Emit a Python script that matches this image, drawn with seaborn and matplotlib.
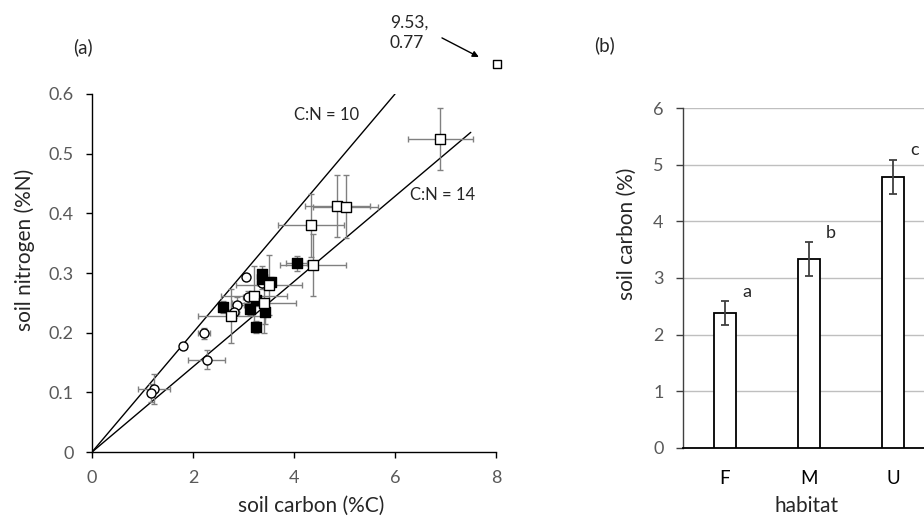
import matplotlib
matplotlib.use("Agg")
import matplotlib.pyplot as plt
import seaborn as sns
import pandas as pd

# ---- panel (a): soil C vs N, three groups of sites ----
circ_c = [1.23, 1.16, 1.81, 2.22, 2.27, 3.05, 2.88, 3.08, 2.81, 3.36]
circ_n = [0.106, 0.099, 0.178, 0.199, 0.155, 0.293, 0.247, 0.259, 0.235, 0.284]
circ_cerr = [0.31, 0.05, 0.03, 0.12, 0.36, 0.05, 0.12, 0.10, 0.10, 0.10]
circ_nerr = [0.025, 0.015, 0.004, 0.009, 0.016, 0.005, 0.012, 0.010, 0.010, 0.010]

fill_c = [4.05, 3.37, 3.36, 3.55, 2.59, 3.13, 3.25, 3.42, 3.25]
fill_n = [0.316, 0.299, 0.290, 0.285, 0.243, 0.240, 0.255, 0.235, 0.210]
fill_cerr = [0.20, 0.05, 0.05, 0.08, 0.06, 0.06, 0.06, 0.06, 0.06]
fill_nerr = [0.012, 0.012, 0.010, 0.008, 0.010, 0.010, 0.010, 0.021, 0.010]

open_c = [6.90, 4.86, 5.02, 4.33, 4.38, 3.50, 3.21, 3.40, 2.76]
open_n = [0.525, 0.413, 0.411, 0.380, 0.313, 0.280, 0.261, 0.250, 0.228]
open_cerr = [0.65, 0.65, 0.65, 0.65, 0.65, 0.65, 0.65, 0.63, 0.66]
open_nerr = [0.052, 0.052, 0.053, 0.053, 0.052, 0.050, 0.050, 0.050, 0.045]

outlier_c, outlier_n = 9.53, 0.77

# ---- panel (b): soil carbon by habitat ----
habitats = ["F", "M", "U"]
carbon_mean = [2.38, 3.33, 4.78]
carbon_se = [0.21, 0.30, 0.30]
sig_letters = ["a", "b", "c"]

sns.set_theme(style="white")
plt.rcParams["font.family"] = ["Lato", "DejaVu Sans"]

tick_grey = "#595959"
err_grey = "#808080"
TICK_FS = 13
LABEL_FS = 15

fig = plt.figure(figsize=(9.24, 5.17), dpi=100)
ax1 = fig.add_axes([0.0996, 0.1257, 0.4372, 0.6925])
ax2 = fig.add_axes([0.7392, 0.1335, 0.2727, 0.6576])

groups = [
    ("circle", circ_c, circ_n, circ_cerr, circ_nerr, "o", "white"),
    ("filled", fill_c, fill_n, fill_cerr, fill_nerr, "s", "black"),
    ("open", open_c, open_n, open_cerr, open_nerr, "s", "white"),
]

# error bars first, under every marker
for name, c, n, ce, ne, m, fc in groups:
    ax1.errorbar(c, n, xerr=ce, yerr=ne, fmt="none", ecolor=err_grey,
                 elinewidth=1.0, capsize=2.5, capthick=1.0, zorder=2)

for i, (name, c, n, ce, ne, m, fc) in enumerate(groups):
    df = pd.DataFrame({"C": c, "N": n})
    sns.scatterplot(data=df, x="C", y="N", ax=ax1, marker=m, s=42,
                    color=fc, edgecolor="black", linewidth=1.0,
                    zorder=3 + i, legend=False)

# C:N reference lines
ax1.plot([0, 6], [0, 0.6], color="black", lw=1.0, zorder=1)
ax1.plot([0, 7.5], [0, 7.5 / 14], color="black", lw=1.0, zorder=1)
ax1.text(4.65, 0.565, "C:N = 10", fontsize=12, ha="center", va="center")
ax1.text(6.94, 0.431, "C:N = 14", fontsize=12, ha="center", va="center")

# off-scale point drawn just outside the frame
ax1.scatter([8.02], [0.650], marker="s", s=34, facecolor="white",
            edgecolor="black", linewidth=1.0, clip_on=False, zorder=6)
ax1.text(5.90, 0.703, f"{outlier_c:.2f},\n{outlier_n:.2f}", fontsize=12.5,
         ha="left", va="center", linespacing=1.35)
ax1.annotate("", xy=(7.66, 0.662), xytext=(6.93, 0.694),
             annotation_clip=False,
             arrowprops=dict(arrowstyle="-|>", color="black", lw=1.0,
                             mutation_scale=9, shrinkA=0, shrinkB=0))

ax1.set_xlim(0, 8)
ax1.set_ylim(0, 0.6)
ax1.set_xticks([0, 2, 4, 6, 8])
ax1.set_yticks([0, 0.1, 0.2, 0.3, 0.4, 0.5, 0.6])
ax1.set_yticklabels(["0", "0.1", "0.2", "0.3", "0.4", "0.5", "0.6"])
ax1.set_xlabel("soil carbon (%C)", fontsize=LABEL_FS)
ax1.set_ylabel("soil nitrogen (%N)", fontsize=LABEL_FS)
ax1.xaxis.set_label_coords(0.542, -0.150)
ax1.xaxis.label.set_va("center")
ax1.yaxis.set_label_coords(-0.166, 0.564)
ax1.yaxis.label.set_va("center")
for s in ["top", "right"]:
    ax1.spines[s].set_visible(False)
for s in ["left", "bottom"]:
    ax1.spines[s].set_color("black")
    ax1.spines[s].set_linewidth(1.0)
ax1.tick_params(axis="both", direction="out", length=4, width=1.0,
                color="black", labelsize=TICK_FS, labelcolor=tick_grey,
                left=True, bottom=True)
ax1.tick_params(axis="x", pad=9)
ax1.tick_params(axis="y", pad=9)
ax1.text(-0.022, 1.131, "(a)", transform=ax1.transAxes, fontsize=13.5,
         ha="center", va="center")

# ---- panel (b) bars ----
bdf = pd.DataFrame({"habitat": habitats, "carbon": carbon_mean})
sns.barplot(data=bdf, x="habitat", y="carbon", ax=ax2, color="white",
            edgecolor="black", linewidth=1.3, width=0.254, errorbar=None,
            zorder=3)
ax2.errorbar(range(len(habitats)), carbon_mean, yerr=carbon_se, fmt="none",
             ecolor="#404040", elinewidth=1.3, capsize=3, capthick=1.3,
             zorder=4)
for i, lab in enumerate(sig_letters):
    ax2.text(i + 0.26, carbon_mean[i] + carbon_se[i] + 0.17, lab,
             fontsize=13, ha="center", va="center")

ax2.set_xlim(-0.5, 2.5)
ax2.set_ylim(0, 6)
ax2.set_yticks(range(0, 7))
ax2.yaxis.grid(True, color="#bfbfbf", lw=1.0, zorder=0)
ax2.set_axisbelow(True)
ax2.set_xlabel("habitat", fontsize=LABEL_FS)
ax2.set_ylabel("soil carbon (%)", fontsize=LABEL_FS)
ax2.xaxis.set_label_coords(0.492, -0.172)
ax2.xaxis.label.set_va("center")
ax2.yaxis.set_label_coords(-0.222, 0.629)
ax2.yaxis.label.set_va("center")
for s in ["top", "right"]:
    ax2.spines[s].set_visible(False)
ax2.spines["left"].set_color("#404040")
ax2.spines["bottom"].set_color("black")
ax2.spines["left"].set_linewidth(1.0)
ax2.spines["bottom"].set_linewidth(1.3)
ax2.tick_params(axis="y", direction="out", length=5, width=1.0,
                color="#404040", labelsize=TICK_FS, labelcolor=tick_grey,
                left=True, pad=9)
ax2.tick_params(axis="x", length=0, labelsize=TICK_FS + 0.5,
                labelcolor="black", pad=16)
ax2.text(-0.31, 1.185, "(b)", transform=ax2.transAxes, fontsize=13.5,
         ha="center", va="center")

fig.savefig("out.png", dpi=100)
